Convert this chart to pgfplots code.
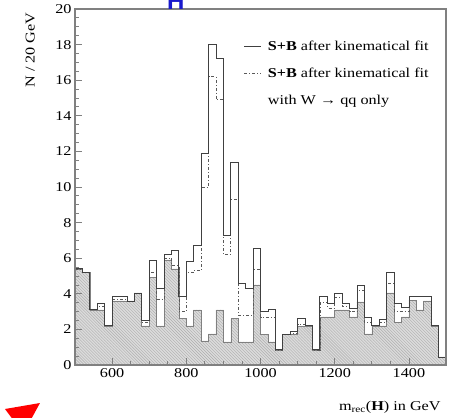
\documentclass[border=0pt]{standalone}
\usepackage{pgfplots}
\pgfplotsset{compat=1.18}
\usepackage{pgfplotstable}
\usetikzlibrary{patterns}
\usepackage{fontspec}
\setmainfont{Liberation Serif}[FakeStretch=1.2]
\newfontfamily\hfont{Liberation Sans}

\pgfplotstableread{
x s d b
500 5.4 5.4 5.4
520 5.2 5.2 5.2
540 3.1 3.1 3.1
560 3.45 3.3 3.1
580 2.2 2.2 2.2
600 3.85 3.7 3.6
620 3.85 3.7 3.6
640 3.6 3.6 3.6
660 4.05 4.05 4.05
680 2.5 2.4 2.2
700 5.85 5.2 4.9
720 4.3 3.7 2.2
740 6.2 6.0 5.9
760 6.45 5.6 5.4
780 3.85 3.0 2.6
800 5.8 5.2 2.2
820 6.7 5.3 3.1
840 11.9 10.0 1.35
860 18.0 16.2 1.75
880 17.2 14.9 3.1
900 7.3 6.2 1.3
920 11.4 9.3 2.6
940 4.6 2.8 1.3
960 4.3 2.8 1.3
980 6.55 5.35 4.5
1000 3.0 2.7 1.7
1020 3.1 2.7 1.3
1040 0.85 0.85 0.85
1060 1.7 1.7 1.7
1080 1.9 1.8 1.7
1100 2.6 2.3 2.15
1120 2.2 2.2 2.2
1140 0.85 0.85 0.85
1160 3.85 3.5 2.7
1180 3.45 3.2 2.7
1200 4.0 3.8 3.1
1220 3.45 3.3 3.1
1240 3.2 3.0 2.7
1260 4.45 4.2 3.55
1280 2.65 2.4 1.75
1300 2.2 2.2 2.2
1320 2.55 2.4 2.2
1340 5.2 4.6 4.05
1360 3.45 3.0 2.4
1380 3.25 3.0 2.7
1400 3.85 3.85 3.65
1420 3.85 3.85 3.1
1440 3.85 3.85 3.6
1460 2.2 2.2 2.2
1480 0.45 0.45 0.45
1500 0.45 0.45 0.45
}\hist

\begin{document}
\begin{tikzpicture}[font=\fontsize{13.5bp}{16bp}\selectfont]
\begin{axis}[
  scale only axis, width=371bp, height=356bp,
  xmin=500, xmax=1500, ymin=0, ymax=20,
  axis on top,
  axis line style={draw=black!50, line width=1.1bp},
  tick style={draw=black!50, line width=0.8bp},
  major tick length=7bp, minor tick length=4bp,
  tick align=inside, tick pos=left,
  xtick={600,800,1000,1200,1400}, minor x tick num=3,
  ytick={0,2,...,20}, minor y tick num=3,
  /pgf/number format/assume math mode=true,
  /pgf/number format/1000 sep={},
  ticklabel style={font=\fontsize{13.5bp}{16bp}\selectfont},
  xlabel={m\textsubscript{rec}(\textbf{H}) in GeV},
  ylabel={N / 20 GeV},
  xlabel style={at={(rel axis cs:0.995,-0.092)}, anchor=north east},
  ylabel style={at={(rel axis cs:-0.099,1)}, anchor=south east},
  legend style={at={(rel axis cs:0.455,0.917)}, anchor=north west, draw=none, fill=none,
    font=\fontsize{13.5bp}{16bp}\selectfont, row sep=12bp, inner sep=0pt,
    /tikz/every odd column/.append style={column sep=4bp}},
  legend cell align=left,
]
\addplot[const plot, draw=black!50, line width=0.6bp, fill=black!14,
  postaction={pattern=north west lines, pattern color=black!32}, forget plot]
  table[x=x, y=b]{\hist} \closedcycle;
\addplot[const plot, draw=black!65, line width=0.7bp,
  dash pattern=on 3bp off 2bp on 1bp off 2bp, forget plot]
  table[x=x, y=d]{\hist};
\addplot[const plot, draw=black!75, line width=0.8bp, forget plot]
  table[x=x, y=s]{\hist};
\addlegendimage{line legend, draw=black!75, line width=0.8bp}
\addlegendentry{\textbf{S+B} after kinematical fit}
\addlegendimage{line legend, draw=black!65, line width=0.7bp, dash pattern=on 3bp off 2bp on 1bp off 2bp}
\addlegendentry{\textbf{S+B} after kinematical fit}
\addlegendimage{empty legend}
\addlegendentry{with W → qq only}
\coordinate (sw) at (rel axis cs:0,0);
\coordinate (ne) at (rel axis cs:1,1);
\coordinate (htop) at (rel axis cs:0.272,1);
\end{axis}
\node[anchor=base, text={rgb,1:red,0.1;green,0.1;blue,0.8}, font=\hfont\bfseries\fontsize{24bp}{24bp}\selectfont, inner sep=0pt] at ([yshift=-1bp]htop) {H};
\fill[red] ([shift={(-70bp,-44bp)}]sw) -- ([shift={(-35bp,-38bp)}]sw) -- ([shift={(-47bp,-60bp)}]sw) -- ([shift={(-58bp,-60bp)}]sw) -- cycle;
\pgfresetboundingbox
\useasboundingbox ([shift={(-75bp,-53bp)}]sw) rectangle ([shift={(11bp,9bp)}]ne);
\end{tikzpicture}
\end{document}
